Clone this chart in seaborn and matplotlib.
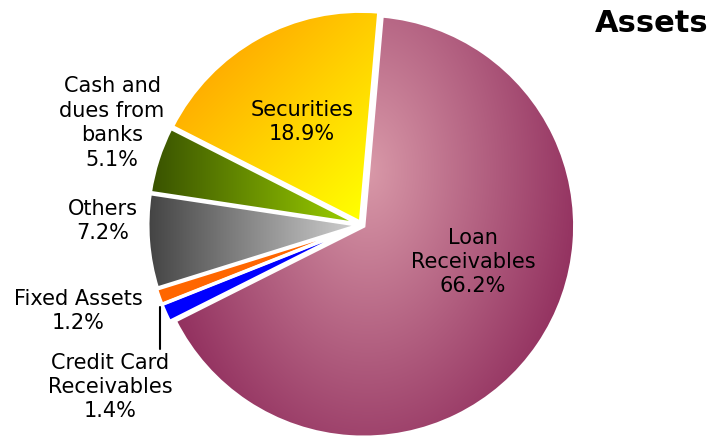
import numpy as np
import matplotlib
matplotlib.use("Agg")
import matplotlib.pyplot as plt
import seaborn as sns

# slice data, clockwise from 12 o'clock
labels = ["Loan\nReceivables", "Credit Card\nReceivables", "Fixed Assets",
          "Others", "Cash and\ndues from\nbanks", "Securities"]
shares = [66.2, 1.4, 1.2, 7.2, 5.1, 18.9]

sns.set_style("white")
plt.rcParams["font.family"] = ["DejaVu Sans"]

W, H = 712, 437
CX, CY, R = 362, 225, 211  # pie centre / radius in pixels


def px(x, y):
    # pixel position -> data coords (pie radius = 1)
    return (x - CX) / R, (CY - y) / R


fig = plt.figure(figsize=(W / 100, H / 100), dpi=100)
ax = fig.add_axes([0, 0, 1, 1])
x0, y1 = px(0, 0)
x1, y0 = px(W, H)

wedges, _ = ax.pie(shares, startangle=85, counterclock=False, radius=1,
                   explode=[0.01, 0.02, 0.02, 0.015, 0.015, 0.015],
                   wedgeprops=dict(edgecolor="white", linewidth=2.4, facecolor="none"))
for w in wedges:
    w.set_zorder(3)

# gradient fills
gx, gy = np.meshgrid(np.linspace(x0, x1, W), np.linspace(y1, y0, H))


def blend(c0, c1, t):
    t = np.clip(t, 0, 1)[..., None]
    return np.array(c0) * (1 - t) + np.array(c1) * t


def lin_x(a, b):
    return (gx - px(a, 0)[0]) / (px(b, 0)[0] - px(a, 0)[0])


cx, cy = px(368, 170)
t_loan = np.sqrt(((gx - cx) / 1.0) ** 2 + ((gy - cy) / 1.5) ** 2)
sx, sy = px(200, 60)
t_sec = ((gx - sx) - (gy - sy)) / 1.5

fills = [
    blend((0.85, 0.60, 0.66), (0.58, 0.20, 0.38), t_loan),
    blend((0.0, 0.0, 1.0), (0.0, 0.0, 1.0), t_loan),
    blend((1.0, 0.40, 0.0), (1.0, 0.40, 0.0), t_loan),
    blend((0.27, 0.27, 0.27), (0.80, 0.80, 0.80), lin_x(150, 350)),
    blend((0.22, 0.32, 0.0), (0.60, 0.80, 0.0), lin_x(150, 350)),
    blend((1.0, 0.66, 0.0), (1.0, 1.0, 0.0), t_sec),
]
for w, img in zip(wedges, fills):
    im = ax.imshow(img, extent=(x0, x1, y0, y1), origin="upper", zorder=1,
                   interpolation="bilinear", aspect="auto")
    im.set_clip_path(w)

# labels
fs = 15
pct = [f"{s:.1f}%" for s in shares]
pos = [(473, 262), (110, 387), (78, 311), (103, 221), (112, 123), (302, 122)]
for lab, p, (lx, ly) in zip(labels, pct, pos):
    ax.text(*px(lx, ly), f"{lab}\n{p}", ha="center", va="center",
            fontsize=fs, color="black", linespacing=1.28, zorder=5)

# leader line for credit card
ax.plot(*zip(px(160, 307), px(160, 349)), color="black", lw=1.5, zorder=5)

ax.set_aspect("auto")
ax.set_xlim(x0, x1)
ax.set_ylim(y0, y1)
ax.axis("off")

fig.text(708 / W, 1 - 32 / H, "Assets", ha="right", va="baseline",
         fontsize=22, fontweight="bold", color="black")

fig.savefig("out.png", dpi=100)
